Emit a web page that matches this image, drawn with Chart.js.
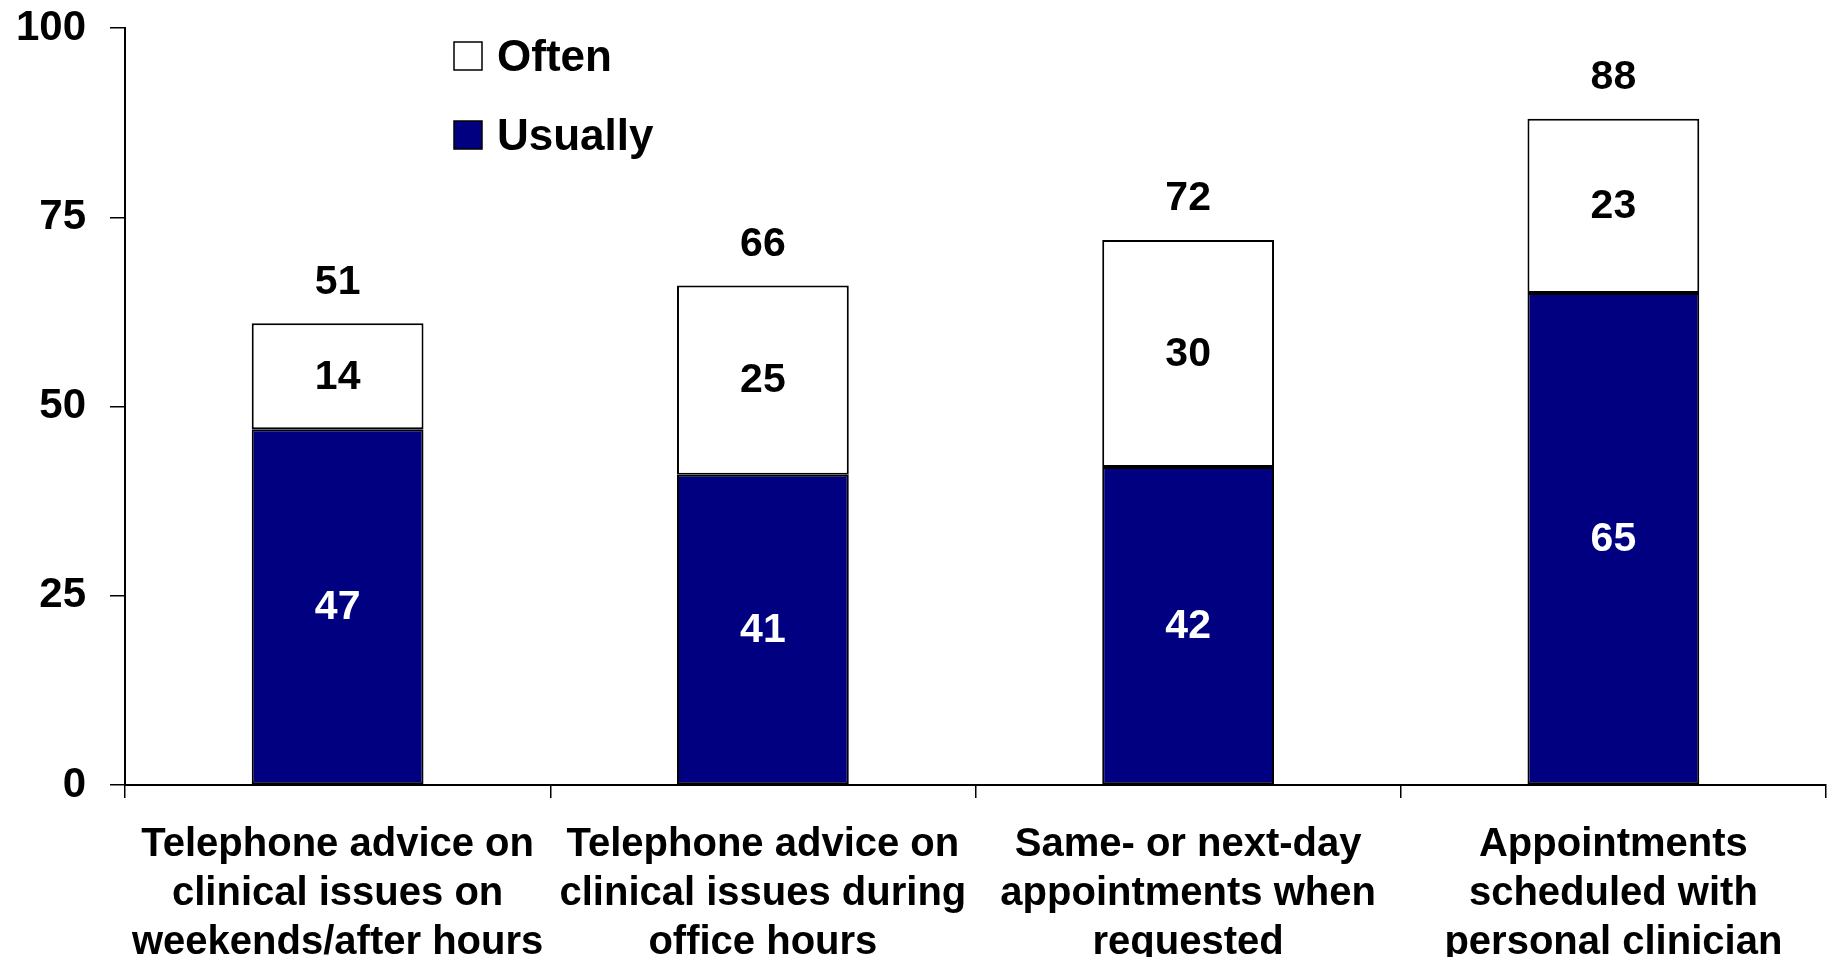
<!DOCTYPE html>
<html>
<head>
<meta charset="utf-8">
<script src="https://cdn.jsdelivr.net/npm/chart.js@4/dist/chart.umd.min.js"></script>
<style>
    html, body { margin: 0; padding: 0; background: #fff; }
    #wrap { width: 1834px; height: 957px; position: relative; }
</style>
</head>
<body>
<div id="wrap"><canvas id="accessChart" width="1834" height="957"></canvas></div>
<script>
// --- Data ---
const categories = [
    ['Telephone advice on', 'clinical issues on', 'weekends/after hours'],
    ['Telephone advice on', 'clinical issues during', 'office hours'],
    ['Same- or next-day', 'appointments when', 'requested'],
    ['Appointments', 'scheduled with', 'personal clinician']
];
const usuallyValues = [47, 41, 42, 65];
const oftenValues = [14, 25, 30, 23];
const totalLabels = [51, 66, 72, 88]; // printed above each bar
const yTicks = [0, 25, 50, 75, 100];

const FONT = '"Liberation Sans", Arial, sans-serif';
const NAVY = '#000080';

// draws the numbers inside and above the bars
const valueLabels = {
    id: 'valueLabels',
    afterDatasetsDraw(chart) {
        const ctx = chart.ctx;
        ctx.save();
        ctx.font = `bold 41px ${FONT}`;
        ctx.textAlign = 'center';
        ctx.textBaseline = 'middle';
        chart.data.datasets.forEach((ds, di) => {
            const meta = chart.getDatasetMeta(di);
            meta.data.forEach((bar, i) => {
                ctx.fillStyle = di === 0 ? '#fff' : '#000';
                ctx.fillText(String(ds.data[i]), bar.x, (bar.y + bar.base) / 2 + 1);
            });
        });
        // totals above the stack
        const topMeta = chart.getDatasetMeta(1);
        topMeta.data.forEach((bar, i) => {
            ctx.fillStyle = '#000';
            ctx.fillText(String(totalLabels[i]), bar.x, bar.y - 41);
        });
        ctx.restore();
    }
};

// legend sits inside the plot area, Often above Usually
const insideLegend = {
    id: 'insideLegend',
    afterDraw(chart) {
        const ctx = chart.ctx;
        const x = chart.chartArea.left + 329;
        const rows = [
            { label: 'Often', fill: '#fff', y: 56 },
            { label: 'Usually', fill: NAVY, y: 135 }
        ];
        ctx.save();
        ctx.font = `bold 44px ${FONT}`;
        ctx.textBaseline = 'middle';
        ctx.textAlign = 'left';
        rows.forEach(r => {
            ctx.fillStyle = r.fill;
            ctx.fillRect(x, r.y - 14, 28, 28);
            ctx.strokeStyle = '#000';
            ctx.lineWidth = 1.5;
            ctx.strokeRect(x, r.y - 14, 28, 28);
            ctx.fillStyle = '#000';
            ctx.fillText(r.label, x + 43, r.y + 3);
        });
        ctx.restore();
    }
};

const ctx = document.getElementById('accessChart').getContext('2d');
new Chart(ctx, {
    type: 'bar',
    data: {
        labels: categories,
        datasets: [
            {
                label: 'Usually',
                data: usuallyValues,
                backgroundColor: NAVY,
                borderColor: '#000',
                borderWidth: 2,
                borderSkipped: false,
                barPercentage: 0.404,
                categoryPercentage: 1
            },
            {
                label: 'Often',
                data: oftenValues,
                backgroundColor: '#fff',
                borderColor: '#000',
                borderWidth: 2,
                borderSkipped: false,
                barPercentage: 0.404,
                categoryPercentage: 1
            }
        ]
    },
    options: {
        responsive: false,
        animation: false,
        layout: { padding: { top: 28, right: 8, bottom: 0, left: 0 } },
        plugins: {
            legend: { display: false },
            tooltip: { enabled: false }
        },
        scales: {
            x: {
                stacked: true,
                grid: { display: true, drawOnChartArea: false, drawTicks: true, tickLength: 13, color: '#000', lineWidth: 1.5, offset: true },
                border: { display: true, color: '#000', width: 2 },
                ticks: {
                    color: '#000',
                    font: { family: FONT, size: 40, weight: 'bold', lineHeight: 1.22 },
                    padding: 23,
                    maxRotation: 0,
                    autoSkip: false
                },
                afterFit: (scale) => { scale.height = 172; }
            },
            y: {
                stacked: true,
                min: 0,
                max: 100,
                afterBuildTicks: (scale) => { scale.ticks = yTicks.map(v => ({ value: v })); },
                grid: { display: true, drawOnChartArea: false, drawTicks: true, tickLength: 15, color: '#000', lineWidth: 1.5 },
                border: { display: true, color: '#000', width: 2 },
                ticks: {
                    color: '#000',
                    font: { family: FONT, size: 42, weight: 'bold' },
                    padding: 24
                },
                afterFit: (scale) => {
                    scale.width = 125;
                    scale.paddingTop = 0;
                    scale.paddingBottom = 0;
                }
            }
        }
    },
    plugins: [valueLabels, insideLegend]
});
</script>
</body>
</html>
